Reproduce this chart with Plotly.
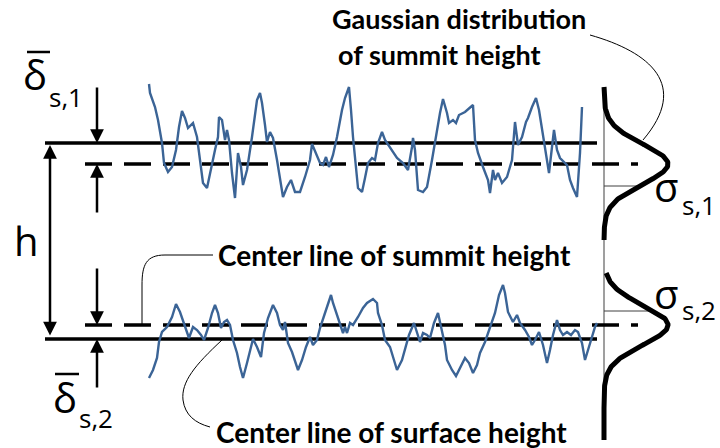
import numpy as np
import plotly.graph_objects as go

# ---- rough-surface profiles (x position, height) in chart units ----
upper_x = [149, 150, 155, 158, 162, 164, 168, 172, 176, 179, 182, 185, 188, 193, 197, 200, 203, 207,
           210, 215, 218, 219, 222, 225, 227, 229, 232, 235, 238, 241, 243, 247, 252, 255, 257, 260,
           262, 265, 267, 270, 273, 277, 280, 283, 287, 291, 295, 300, 305, 310, 312, 316, 320, 323,
           326, 329, 333, 337, 342, 345, 349, 351, 353, 358, 362, 365, 368, 372, 375, 378, 382, 385,
           390, 397, 403, 408, 412, 413, 415, 418, 423, 427, 432, 437, 440, 443, 447, 449, 453, 456,
           459, 465, 470, 473, 475, 478, 483, 488, 490, 493, 495, 498, 502, 507, 512, 515, 518, 522,
           526, 528, 532, 536, 539, 543, 547, 549, 552, 554, 557, 560, 567, 570, 573, 577, 580, 582]
upper_y = [84, 93, 107, 120, 143, 163, 172, 167, 150, 127, 111, 118, 128, 123, 137, 163, 183, 188,
           173, 150, 137, 117, 120, 140, 130, 140, 173, 198, 153, 167, 185, 170, 137, 117, 100, 93,
           103, 125, 142, 132, 138, 160, 180, 197, 187, 180, 192, 192, 177, 160, 144, 153, 163, 165,
           157, 167, 155, 137, 110, 98, 87, 110, 137, 188, 192, 178, 163, 158, 160, 143, 132, 140,
           148, 158, 163, 170, 147, 138, 150, 190, 192, 187, 160, 130, 113, 99, 113, 123, 120, 123,
           115, 112, 107, 105, 140, 153, 167, 180, 193, 170, 180, 173, 183, 177, 160, 122, 145, 137,
           122, 118, 107, 98, 110, 137, 160, 173, 147, 130, 150, 158, 165, 180, 188, 197, 153, 107]

lower_x = [149, 153, 157, 159, 162, 167, 172, 176, 180, 185, 189, 193, 197, 201, 204, 208, 212, 215,
           218, 221, 224, 227, 230, 233, 237, 240, 243, 247, 250, 253, 257, 261, 264, 268, 273, 277,
           280, 283, 285, 288, 292, 295, 298, 302, 306, 310, 313, 317, 320, 325, 328, 331, 333, 337,
           340, 343, 345, 347, 350, 353, 358, 363, 367, 373, 377, 378, 382, 385, 390, 393, 397, 402,
           405, 409, 414, 417, 420, 423, 427, 430, 434, 438, 442, 445, 447, 452, 456, 460, 465, 469,
           473, 477, 480, 485, 490, 495, 499, 503, 505, 508, 513, 517, 520, 525, 529, 532, 535, 539,
           543, 547, 550, 553, 557, 560, 563, 567, 571, 575, 578, 582, 585, 590, 595, 597]
lower_y = [378, 370, 358, 342, 332, 327, 317, 304, 312, 327, 338, 327, 330, 335, 340, 328, 313, 305,
           313, 328, 322, 320, 325, 340, 353, 367, 378, 363, 350, 339, 347, 357, 333, 318, 305, 313,
           325, 330, 322, 343, 352, 362, 370, 360, 347, 337, 345, 340, 328, 313, 303, 295, 303, 315,
           323, 333, 327, 333, 323, 325, 317, 308, 303, 299, 303, 313, 325, 340, 347, 357, 370, 360,
           350, 335, 323, 332, 342, 333, 335, 338, 323, 313, 330, 345, 360, 370, 376, 368, 358, 363,
           373, 365, 353, 342, 328, 313, 295, 285, 293, 312, 322, 315, 323, 330, 337, 345, 340, 332,
           345, 363, 350, 335, 320, 330, 335, 332, 335, 330, 332, 343, 360, 343, 327, 323]

# ---- reference levels ----
upper_mean = 143      # mean plane of upper surface
upper_summit = 164    # center line of upper summit heights
lower_summit = 325    # center line of lower summit heights
lower_mean = 339      # mean plane of lower surface
line_x0, line_x1 = 45, 597
dash_x0, dash_x1 = 85, 638

# ---- summit-height distributions ----
dist_base = 604
dist_amp = 64
dist_sd = 20
g1_y = np.linspace(87, 240, 200)
g2_y = np.linspace(273, 440, 200)
g1_x = dist_base + dist_amp * np.exp(-0.5 * ((g1_y - upper_summit) / dist_sd) ** 2)
g2_x = dist_base + dist_amp * np.exp(-0.5 * ((g2_y - lower_summit) / dist_sd) ** 2)
sig1_y = upper_summit + 22
sig2_y = lower_summit - 14

BLUE = "#3B6496"
BLACK = "#000000"

fig = go.Figure()

fig.add_trace(go.Scatter(x=upper_x, y=upper_y, mode="lines",
                         line=dict(color=BLUE, width=2.4), hoverinfo="skip"))
fig.add_trace(go.Scatter(x=lower_x, y=lower_y, mode="lines",
                         line=dict(color=BLUE, width=2.4), hoverinfo="skip"))

# distribution axis
fig.add_shape(type="line", x0=dist_base, x1=dist_base, y0=87, y1=440,
              line=dict(color="#7f7f7f", width=1.5), layer="below")
# sigma markers
for sy, gy, gx in [(sig1_y, g1_y, g1_x), (sig2_y, g2_y, g2_x)]:
    fig.add_shape(type="line", x0=dist_base, x1=float(np.interp(sy, gy, gx)), y0=sy, y1=sy,
                  line=dict(color="#404040", width=1), layer="below")

fig.add_trace(go.Scatter(x=g1_x, y=g1_y, mode="lines",
                         line=dict(color=BLACK, width=5), hoverinfo="skip"))
fig.add_trace(go.Scatter(x=g2_x, y=g2_y, mode="lines",
                         line=dict(color=BLACK, width=5), hoverinfo="skip"))

# mean planes and summit center lines
for yy in (upper_mean, lower_mean):
    fig.add_shape(type="line", x0=line_x0, x1=line_x1, y0=yy, y1=yy,
                  line=dict(color=BLACK, width=3.5), layer="below")
for yy in (upper_summit, lower_summit):
    fig.add_shape(type="line", x0=dash_x0, x1=dash_x1, y0=yy, y1=yy,
                  line=dict(color=BLACK, width=3.5, dash="27px,12px"), layer="below")


def arrow(x, y, ax, ay, both=False):
    fig.add_annotation(x=x, y=y, ax=ax, ay=ay, xref="x", yref="y", axref="x", ayref="y",
                       text="", showarrow=True, arrowhead=2, arrowsize=1.1, arrowwidth=2.5,
                       arrowcolor=BLACK, arrowside="end+start" if both else "end",
                       startarrowhead=2, startarrowsize=1.1)


arrow(50, upper_mean + 2, 50, lower_mean - 2, both=True)
arrow(97, upper_mean, 97, 86)
arrow(97, upper_summit, 97, 214)
arrow(97, lower_summit, 97, 267)
arrow(97, lower_mean, 97, 389)

# leader curves
leader = dict(color=BLACK, width=1)
fig.add_shape(type="path", path="M 590 35 C 650 52, 690 85, 643 140", line=leader)
fig.add_shape(type="path", path="M 213 255 L 165 255 C 146 255, 142 265, 142 285 L 142 325",
              line=leader)
fig.add_shape(type="path", path="M 222 340 C 195 365, 181 382, 183 400 C 185 415, 195 423, 210 427",
              line=leader)

SYM = dict(family="Open Sans", size=40, color=BLACK)
SUB = dict(family="Open Sans", size=26, color=BLACK)
BOLD = dict(family="Lato", size=27, color=BLACK, weight="bold")
BOLD_L = dict(family="Lato", size=28, color=BLACK, weight="bold")


def text(x, y, s, font, xanchor="left"):
    fig.add_annotation(x=x, y=y, xref="x", yref="y", text=s, showarrow=False,
                       font=font, xanchor=xanchor, yanchor="middle")


# delta-bar labels
text(21, 74, "δ", SYM)
text(47, 97, "s,1", SUB)
fig.add_shape(type="line", x0=27, x1=50, y0=52, y1=52, line=dict(color=BLACK, width=2.5))
text(51, 397, "δ", SYM)
text(77, 418, "s,2", SUB)
fig.add_shape(type="line", x0=55, x1=79, y0=374, y1=374, line=dict(color=BLACK, width=2.5))

text(12, 240, "h", SYM)

text(652, 186, "σ", SYM)
text(680, 205, "s,1", SUB)
text(652, 293, "σ", SYM)
text(680, 310, "s,2", SUB)

text(330, 18, "Gaussian distribution", BOLD)
text(336, 54, "of summit height", BOLD)
text(216, 255, "Center line of summit height", BOLD_L)
text(214, 432, "Center line of surface height", BOLD_L)

fig.update_layout(
    width=720, height=448, margin=dict(l=0, r=0, t=0, b=0),
    paper_bgcolor="white", plot_bgcolor="white", showlegend=False,
    xaxis=dict(range=[0, 720], visible=False, fixedrange=True),
    yaxis=dict(range=[448, 0], visible=False, fixedrange=True),
)

fig.write_html("out.html")
